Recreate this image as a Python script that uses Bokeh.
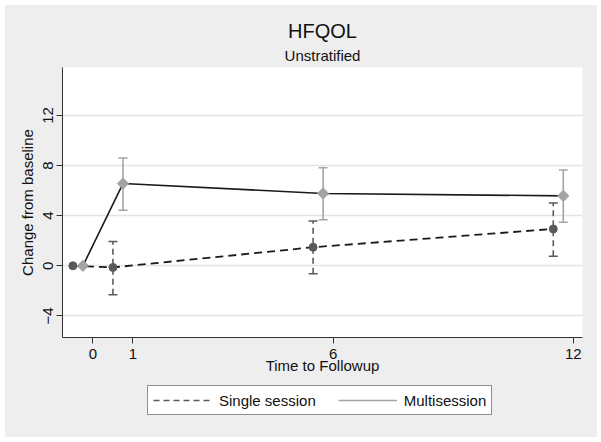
import math
from bokeh.plotting import figure
from bokeh.layouts import column
from bokeh.models import (ColumnDataSource, Legend, LegendItem, Title, Range1d, FixedTicker)
from bokeh.embed import file_html
from bokeh.resources import INLINE

# ---- data ----
x_ticks = [0, 1, 6, 12]
y_ticks = [-4, 0, 4, 8, 12]

single_x = [-0.5, 0.5, 5.5, 11.5]
single_y = [0.0, -0.13, 1.48, 2.94]
single_ci_x = [0.5, 5.5, 11.5]
single_lo = [-2.3, -0.63, 0.77]
single_hi = [1.93, 3.57, 5.02]

multi_x = [-0.25, 0.75, 5.75, 11.75]
multi_y = [0.0, 6.56, 5.77, 5.58]
multi_ci_x = [0.75, 5.75, 11.75]
multi_lo = [4.44, 3.67, 3.47]
multi_hi = [8.6, 7.83, 7.64]

series_labels = ["Single session", "Multisession"]

FONT = "Liberation Sans"
DARK = "#5a5a5a"
LIGHT = "#a4a4a4"
BG = "#eeeeee"

p = figure(width=592, height=375, title=None,
           x_range=Range1d(-0.76, 12.23), y_range=Range1d(-5.72, 15.82),
           output_backend="svg", toolbar_location=None,
           min_border_left=57, min_border_right=15, min_border_top=62, min_border_bottom=43,
           background_fill_color="white", border_fill_color=BG,
           outline_line_color=None)

sub = Title(text="Unstratified", align="center", text_font=FONT, text_font_size="15px",
            text_font_style="normal", text_color="#111111", standoff=7)
main = Title(text="HFQOL", align="center", text_font=FONT, text_font_size="20px",
             text_font_style="normal", text_color="#111111", standoff=0)
p.add_layout(sub, "above")
p.add_layout(main, "above")

# error bars
s_ci = ColumnDataSource(dict(x=single_ci_x, lo=single_lo, hi=single_hi))
m_ci = ColumnDataSource(dict(x=multi_ci_x, lo=multi_lo, hi=multi_hi))

p.segment(x0="x", y0="lo", x1="x", y1="hi", source=s_ci,
          line_color=DARK, line_width=1.6, line_dash="6 4")
p.scatter(x="x", y="lo", source=s_ci, marker="dash", size=9, line_color=DARK, line_width=1.5)
p.scatter(x="x", y="hi", source=s_ci, marker="dash", size=9, line_color=DARK, line_width=1.5)

p.segment(x0="x", y0="lo", x1="x", y1="hi", source=m_ci,
          line_color=LIGHT, line_width=1.6)
p.scatter(x="x", y="lo", source=m_ci, marker="dash", size=9, line_color=LIGHT, line_width=1.5)
p.scatter(x="x", y="hi", source=m_ci, marker="dash", size=9, line_color=LIGHT, line_width=1.5)

# lines
p.line(single_x, single_y, line_color="#1a1a1a", line_width=1.8, line_dash="8 5")
p.line(multi_x, multi_y, line_color="#1a1a1a", line_width=1.6)

# markers
p.scatter(single_x, single_y, marker="circle", size=8, fill_color=DARK, line_color=DARK)
p.scatter(multi_x, multi_y, marker="square", angle=math.pi / 4, size=8,
          fill_color=LIGHT, line_color=LIGHT)

# axes
for ax in (p.xaxis[0], p.yaxis[0]):
    ax.axis_line_color = "#333333"
    ax.axis_line_width = 1
    ax.major_tick_line_color = "#333333"
    ax.major_tick_out = 6
    ax.major_tick_in = 0
    ax.minor_tick_out = 0
    ax.minor_tick_in = 0
    ax.major_label_text_font = FONT
    ax.major_label_text_font_size = "15px"
    ax.major_label_text_color = "#111111"
    ax.axis_label_text_font = FONT
    ax.axis_label_text_font_size = "15px"
    ax.axis_label_text_font_style = "normal"
    ax.axis_label_text_color = "#111111"

p.xaxis.ticker = FixedTicker(ticks=x_ticks)
p.yaxis.ticker = FixedTicker(ticks=y_ticks)
p.xaxis.axis_label = "Time to Followup"
p.xaxis.axis_label_standoff = -5
p.xaxis.major_label_standoff = 5
p.yaxis.axis_label = "Change from baseline"
p.yaxis.major_label_orientation = "vertical"
p.yaxis.major_label_standoff = 3
p.yaxis.axis_label_standoff = 5

p.xgrid.visible = False
p.ygrid.ticker = FixedTicker(ticks=y_ticks)
p.ygrid.grid_line_color = "#e4e4e4"
p.ygrid.grid_line_width = 1.5

# legend strip below the chart (its frame is aligned with the chart's frame)
p2 = figure(width=592, height=57, title=None,
            x_range=Range1d(100, 101), y_range=Range1d(100, 101),
            x_axis_location=None, y_axis_location=None,
            output_backend="svg", toolbar_location=None,
            min_border_left=0, min_border_right=0, min_border_top=0, min_border_bottom=0,
            background_fill_color=BG, border_fill_color=BG, outline_line_color=None)
p2.grid.visible = False

lg_s = p2.segment(x0="x", y0="lo", x1="x", y1="hi", source=s_ci,
                  line_color=DARK, line_width=1.6, line_dash="6 4")
lg_m = p2.segment(x0="x", y0="lo", x1="x", y1="hi", source=m_ci,
                  line_color=LIGHT, line_width=1.6)

legend = Legend(items=[LegendItem(label=series_labels[0], renderers=[lg_s]),
                       LegendItem(label=series_labels[1], renderers=[lg_m])],
                orientation="horizontal", location=(85, 22),
                border_line_color="#222222", border_line_width=1,
                background_fill_color="white", background_fill_alpha=1,
                label_text_font=FONT, label_text_font_size="15px", label_text_color="#111111",
                glyph_width=59, glyph_height=18, label_height=18, label_standoff=7, spacing=22,
                padding=5, margin=0)
p2.add_layout(legend, "center")

layout = column(p, p2, spacing=0, margin=(5, 5, 5, 5), styles={"background-color": BG})
open("out.html", "w").write(file_html(layout, INLINE))
